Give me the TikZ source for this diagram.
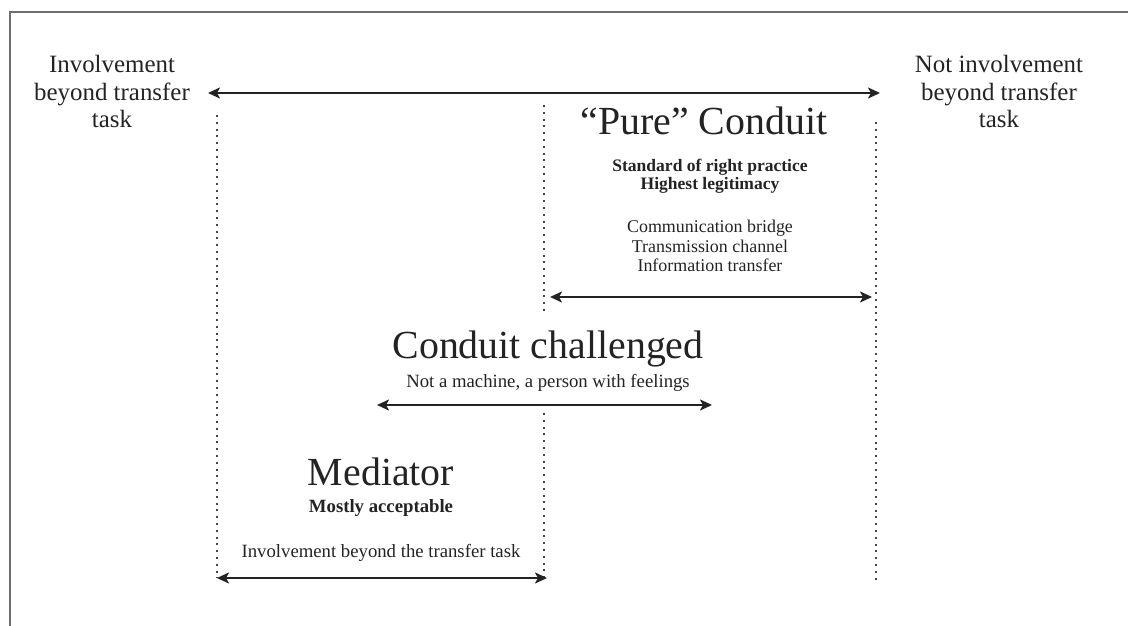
\documentclass[tikz,border=0pt]{standalone}
\usepackage{fontspec}
\setmainfont{Liberation Serif}
\usetikzlibrary{arrows.meta}
\definecolor{framegray}{RGB}{110,110,110}
\definecolor{inkgray}{RGB}{35,35,35}
\definecolor{dotgray}{RGB}{70,70,70}

\begin{document}
\begin{tikzpicture}[x=1bp,y=-1bp,
  every node/.style={inner sep=0pt,text=inkgray},
  span/.style={line width=2.8bp,draw=inkgray,{Stealth[length=12bp,width=11bp,inset=3bp]}-{Stealth[length=12bp,width=11bp,inset=3bp]}},
  divider/.style={line width=2.6bp,dotgray,dash pattern=on 2bp off 4.8bp},
  side/.style={font=\fontsize{25}{28}\selectfont,align=center,anchor=base},
  title/.style={font=\fontsize{40}{44}\selectfont,anchor=base},
  boldline/.style={font=\fontsize{17.6}{18.5}\selectfont\bfseries,align=center,anchor=base},
  plainline/.style={font=\fontsize{18}{20}\selectfont,align=center,anchor=base}]
\useasboundingbox (0,0) rectangle (1128,626);
\draw[framegray,line width=2bp] (10,626) -- (10,12) -- (1128,12);

\node[side] (inv) at (112,128) {Involvement\\beyond transfer\\task};
\node[side] (notinv) at (999,128) {Not involvement\\beyond transfer\\task};
\coordinate (scaleL) at (208,93);
\coordinate (scaleR) at (880,93);
\draw[span] (scaleL) -- (scaleR);

\coordinate (divAtop) at (217,115);
\coordinate (divAbot) at (217,578);
\coordinate (divBtop) at (544,105);
\coordinate (divBmid) at (544,311);
\coordinate (divBlow) at (544,413);
\coordinate (divBbot) at (544,580);
\coordinate (divCtop) at (876,122);
\coordinate (divCbot) at (876,582);
\draw[divider] (divAtop) -- (divAbot);
\draw[divider] (divBtop) -- (divBmid);
\draw[divider] (divBlow) -- (divBbot);
\draw[divider] (divCtop) -- (divCbot);

\node[title] (pure) at (704,135) {“Pure” Conduit};
\node[boldline] (pureval) at (710,190) {Standard of right practice\\Highest legitimacy};
\node[plainline] (pureroles) at (710,272) {Communication bridge\\Transmission channel\\Information transfer};
\coordinate (pureL) at (550,297);
\coordinate (pureR) at (872,297);
\draw[span] (pureL) -- (pureR);

\node[title] (chal) at (548,358) {Conduit challenged};
\node[plainline,font=\fontsize{18.8}{20}\selectfont] (chalnote) at (548,387) {Not a machine, a person with feelings};
\coordinate (chalL) at (377,405);
\coordinate (chalR) at (712,405);
\draw[span] (chalL) -- (chalR);

\node[title] (med) at (381,485) {Mediator};
\node[boldline,font=\fontsize{18.8}{20}\selectfont\bfseries] (medval) at (381,512) {Mostly acceptable};
\node[plainline,font=\fontsize{18.8}{20}\selectfont] (mednote) at (381,557) {Involvement beyond the transfer task};
\coordinate (medL) at (217,578);
\coordinate (medR) at (547,578);
\draw[span] (medL) -- (medR);
\end{tikzpicture}
\end{document}
